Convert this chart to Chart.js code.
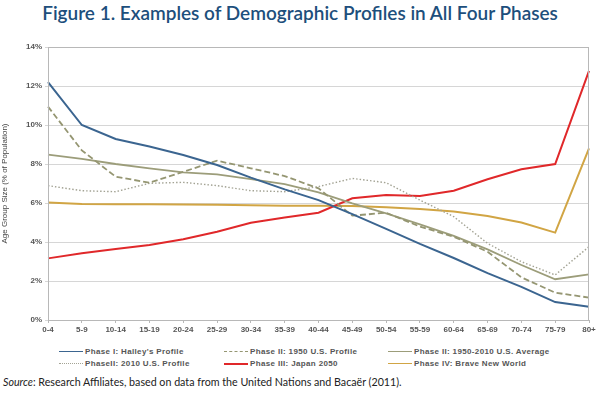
<!DOCTYPE html>
<html>
<head>
<meta charset="utf-8">
<script src="https://cdn.jsdelivr.net/npm/chart.js@4"></script>
<style>
  body { margin: 0; background: #fff; width: 600px; height: 395px; position: relative; overflow: hidden; }
  #title { position: absolute; top: 1px; left: 0; width: 600px; text-align: center; font-family: Lato, sans-serif; font-weight: 600; font-size: 19px; color: #1d4f7c; white-space: nowrap; }
  #wrap { position: absolute; top: 0; left: 0; width: 600px; height: 345px; }
  #legend { position: absolute; top: 346px; left: 0; width: 600px; height: 26px; font-family: "Liberation Sans", Arial, sans-serif; font-weight: bold; font-size: 8px; letter-spacing: 0.35px; color: #555; }
  .item { position: absolute; height: 12px; line-height: 12px; white-space: nowrap; }
  .sample { position: absolute; top: 5px; width: 24px; height: 0; }
  .item span { position: absolute; left: 26px; top: 0; }
  #source { position: absolute; top: 375px; left: 3px; font-family: Lato, sans-serif; font-size: 10.7px; color: #222; white-space: nowrap; }
</style>
</head>
<body>
<div id="title"><span id="titleText">Figure 1. Examples of Demographic Profiles in All Four Phases</span></div>
<div id="wrap"><canvas id="chart"></canvas></div>
<div id="legend"></div>
<div id="source"><i>Source</i>: Research Affiliates, based on data from the United Nations and Bacaër (2011).</div>
<script>
(function(){

const ageGroups = ['0-4','5-9','10-14','15-19','20-24','25-29','30-34','35-39','40-44','45-49','50-54','55-59','60-64','65-69','70-74','75-79','80+'];

const halley = [12.2, 10.0, 9.28, 8.9, 8.46, 7.95, 7.3, 6.7, 6.15, 5.43, 4.67, 3.9, 3.18, 2.4, 1.7, 0.92, 0.68];
const us1950 = [10.94, 8.7, 7.35, 7.04, 7.6, 8.17, 7.78, 7.38, 6.75, 5.35, 5.5, 4.79, 4.27, 3.5, 2.19, 1.4, 1.15];
const usAverage = [8.48, 8.26, 8.0, 7.78, 7.57, 7.47, 7.22, 6.97, 6.55, 5.98, 5.47, 4.9, 4.31, 3.62, 2.82, 2.09, 2.34];
const us2010 = [6.89, 6.63, 6.58, 7.01, 7.06, 6.89, 6.63, 6.58, 6.84, 7.26, 7.04, 6.15, 5.3, 3.93, 2.99, 2.31, 3.76];
const japan2050 = [3.16, 3.42, 3.64, 3.85, 4.14, 4.53, 4.99, 5.26, 5.5, 6.24, 6.41, 6.36, 6.63, 7.22, 7.73, 8.0, 12.78];
const braveNew = [6.03, 5.95, 5.94, 5.93, 5.92, 5.91, 5.89, 5.86, 5.86, 5.85, 5.78, 5.69, 5.56, 5.33, 5.0, 4.48, 8.8];

const seriesNames = ["Phase I: Halley's Profile", 'Phase II: 1950 U.S. Profile', 'Phase II: 1950-2010 U.S. Average',
                     'PhaseII: 2010 U.S. Profile', 'Phase III: Japan 2050', 'Phase IV: Brave New World'];

const styles = [
  { color: '#3b6590', width: 2, dash: [] },
  { color: '#959672', width: 1.8, dash: [6, 3] },
  { color: '#9c9d7a', width: 1.8, dash: [] },
  { color: '#a3a394', width: 1.4, dash: [1.5, 2] },
  { color: '#e0282a', width: 2, dash: [] },
  { color: '#d1a544', width: 2, dash: [] }
];

const allData = [halley, us1950, usAverage, us2010, japan2050, braveNew];

// squeeze the title so it spans the same width as the original
const tt = document.getElementById('titleText');
const want = 516;
let fs = 19;
tt.parentNode.style.fontSize = fs + 'px';
fs = fs * want / tt.getBoundingClientRect().width;
tt.parentNode.style.fontSize = fs + 'px';

// plot area frame, like the excel chart
const framePlugin = {
  id: 'frame',
  afterDatasetsDraw(chart) {
    const a = chart.chartArea, ctx = chart.ctx;
    ctx.save();
    ctx.strokeStyle = '#b8b8b8';
    ctx.lineWidth = 1;
    ctx.strokeRect(a.left + 0.5, a.top + 0.5, a.right - a.left - 1, a.bottom - a.top);
    ctx.restore();
  }
};

const tickFont = { family: '"Liberation Sans", Arial, sans-serif', size: 8, weight: 'bold' };

new Chart(document.getElementById('chart'), {
  type: 'line',
  data: {
    labels: ageGroups,
    datasets: allData.map((d, i) => ({
      label: seriesNames[i],
      data: d,
      borderColor: styles[i].color,
      borderWidth: styles[i].width,
      borderDash: styles[i].dash,
      pointRadius: 0,
      fill: false,
      tension: 0
    }))
  },
  options: {
    responsive: true,
    maintainAspectRatio: false,
    animation: false,
    layout: { padding: { top: 47, right: 11, left: 0, bottom: 0 } },
    plugins: { legend: { display: false }, tooltip: { enabled: false } },
    scales: {
      x: {
        offset: false,
        grid: { drawOnChartArea: false, drawTicks: true, tickLength: 3, color: '#b8b8b8' },
        border: { color: '#b8b8b8' },
        ticks: { font: tickFont, color: '#555', maxRotation: 0, autoSkip: false, padding: 2 },
        afterFit(s) { s.height = 25; }
      },
      y: {
        min: 0, max: 14,
        grid: { color: '#d6d6d6', tickLength: 3 },
        border: { color: '#b8b8b8' },
        ticks: { stepSize: 2, font: tickFont, color: '#555', padding: 3, callback: v => v + '%' },
        title: { display: true, text: 'Age Group Size (% of Population)', font: { family: '"Liberation Sans", Arial, sans-serif', size: 8 }, color: '#444', padding: 0 },
        afterFit(s) { s.width = 48; }
      }
    }
  },
  plugins: [framePlugin]
});

// legend built in html, three columns by two rows
const legendPos = [
  { x: 59, y: 346 }, { x: 224, y: 346 }, { x: 388, y: 346 },
  { x: 59, y: 358 }, { x: 224, y: 358 }, { x: 388, y: 358 }
];
const legend = document.getElementById('legend');
styles.forEach((st, si) => {
  const item = document.createElement('div');
  item.className = 'item';
  item.style.left = legendPos[si].x + 'px';
  item.style.top = (legendPos[si].y - 346) + 'px';
  const sample = document.createElement('div');
  sample.className = 'sample';
  let bs = 'solid';
  if (st.dash.length && st.dash[0] > 3) bs = 'dashed';
  else if (st.dash.length) bs = 'dotted';
  sample.style.borderTop = (si === 4 ? 2.5 : 1.5) + 'px ' + bs + ' ' + st.color;
  const txt = document.createElement('span');
  txt.textContent = seriesNames[si];
  item.appendChild(sample);
  item.appendChild(txt);
  legend.appendChild(item);
});

})();
</script>
</body>
</html>
